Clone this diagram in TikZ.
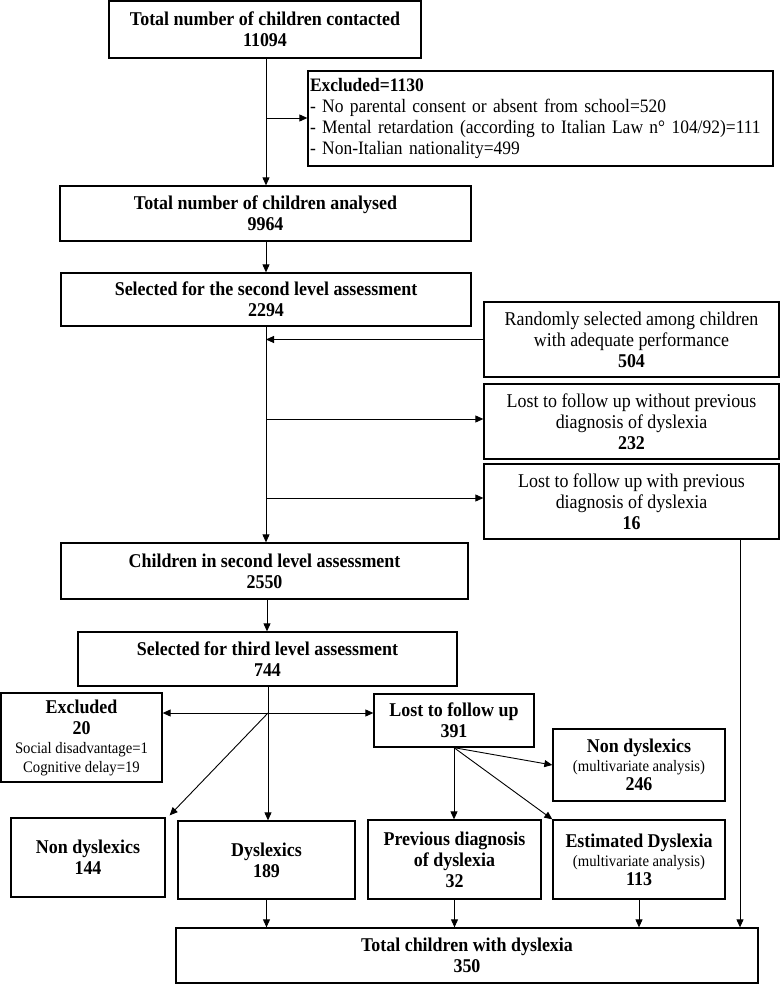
\documentclass[tikz,border=0pt]{standalone}
\usepackage{fontspec}
\setmainfont[FakeStretch=0.92]{Liberation Serif}
\usetikzlibrary{arrows.meta,calc}
\newcommand{\sm}{\fontsize{16}{18}\selectfont}
\begin{document}
\begin{tikzpicture}[x=1pt,y=-1pt,
  box/.style={draw, line width=1.3pt, inner sep=0pt, align=center,
    font=\fontsize{19.5}{21}\selectfont},
  arr/.style={line width=0.9pt, -{Triangle[length=8pt,width=7pt]}},
  ln/.style={line width=0.9pt}]
\useasboundingbox (0,0) rectangle (780,984);

\node[box, minimum width=312pt, minimum height=57pt] (b1) at (265,29.5)
  {\textbf{Total number of children contacted}\\\textbf{11094}};
\node[box, text width=461pt, inner xsep=2pt, align=left, minimum height=95pt,
  font=\fontsize{19}{20.7}\selectfont] (ex1) at (540.5,118.5)
  {\textbf{Excluded=1130}\\- No parental consent or absent from school=520\\- Mental retardation (according to Italian Law n° 104/92)=111\\- Non-Italian nationality=499};
\node[box, minimum width=411pt, minimum height=55pt] (b2) at (265.5,213.5)
  {\textbf{Total number of children analysed}\\\textbf{9964}};
\node[box, minimum width=410pt, minimum height=53pt] (b3) at (266,299.5)
  {\textbf{Selected for the second level assessment}\\\textbf{2294}};
\node[box, minimum width=295pt, minimum height=75pt] (rnd) at (631.5,339.5)
  {Randomly selected among children\\with adequate performance\\\textbf{504}};
\node[box, minimum width=295pt, minimum height=75pt] (lwo) at (631.5,421.5)
  {Lost to follow up without previous\\diagnosis of dyslexia\\\textbf{232}};
\node[box, minimum width=295pt, minimum height=75pt] (lwi) at (631.5,501.5)
  {Lost to follow up with previous\\diagnosis of dyslexia\\\textbf{16}};
\node[box, minimum width=407pt, minimum height=56pt] (b4) at (264.5,571)
  {\textbf{Children in second level assessment}\\\textbf{2550}};
\node[box, minimum width=379pt, minimum height=54pt] (b5) at (267.5,659)
  {\textbf{Selected for third level assessment}\\\textbf{744}};
\node[box, minimum width=161pt, minimum height=89pt] (ex2) at (81.5,737.5)
  {\textbf{Excluded}\\\textbf{20}\\[-2pt]{\sm Social disadvantage=1}\\[-2pt]{\sm Cognitive delay=19}};
\node[box, minimum width=160pt, minimum height=53pt] (lost) at (454,720.5)
  {\textbf{Lost to follow up}\\\textbf{391}};
\node[box, minimum width=172pt, minimum height=72pt] (ndmv) at (639,765)
  {\textbf{Non dyslexics}\\[-2pt]{\sm (multivariate analysis)}\\[-2pt]\textbf{246}};
\node[box, minimum width=154pt, minimum height=79pt] (nd) at (88,857.5)
  {\textbf{Non dyslexics}\\\textbf{144}};
\node[box, minimum width=177pt, minimum height=78pt] (dys) at (266.5,860)
  {\textbf{Dyslexics}\\\textbf{189}};
\node[box, minimum width=173pt, minimum height=79pt] (prev) at (454.5,859.5)
  {\textbf{Previous diagnosis}\\\textbf{of dyslexia}\\\textbf{32}};
\node[box, minimum width=172pt, minimum height=79pt] (est) at (639,859.5)
  {\textbf{Estimated Dyslexia}\\[-2pt]{\sm (multivariate analysis)}\\[-2pt]\textbf{113}};
\node[box, minimum width=582pt, minimum height=55pt] (tot) at (467,955.5)
  {\textbf{Total children with dyslexia}\\\textbf{350}};

% trunk 1
\coordinate (j1) at (266,118);
\draw[arr] (b1.south -| j1) -- (b2.north -| j1);
\draw[arr] (j1) -- (ex1.west |- j1);
\draw[arr] (b2.south -| j1) -- (b3.north -| j1);
% trunk 2
\coordinate (t2) at (266,340);
\draw[arr] (b3.south -| t2) -- (b4.north -| t2);
\draw[arr] (rnd.west) -- (rnd.west -| t2);
\coordinate (c1) at (266,419);
\draw[arr] (c1) -- (lwo.west |- c1);
\coordinate (c2) at (266,498);
\draw[arr] (c2) -- (lwi.west |- c2);
% right line
\coordinate (r1) at (740,600);
\draw[arr] (lwi.south -| r1) -- (tot.north -| r1);
% b4 to b5
\coordinate (t3) at (267,610);
\draw[arr] (b4.south -| t3) -- (b5.north -| t3);
% junction
\coordinate (j2) at (268,713);
\draw[ln] (b5.south -| j2) -- (j2);
\draw[arr] (j2) -- (ex2.east |- j2);
\draw[arr] (j2) -- (lost.west |- j2);
\draw[arr] (j2) -- ($(nd.north east)+(4,-2)$);
\draw[arr] (j2) -- (dys.north -| j2);
% lost branches
\draw[arr] (lost.south) -- (prev.north -| lost.south);
\draw[arr] (lost.south) -- (est.north west);
\draw[arr] (lost.south) -- (ndmv.west);
% to total
\draw[arr] (dys.south) -- (tot.north -| dys.south);
\draw[arr] (prev.south) -- (tot.north -| prev.south);
\draw[arr] (est.south) -- (tot.north -| est.south);
\end{tikzpicture}
\end{document}
